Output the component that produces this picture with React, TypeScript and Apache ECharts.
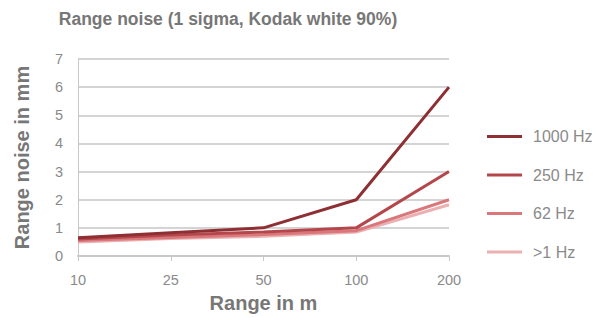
import React, { useEffect, useRef } from "react";
import * as echarts from "echarts";

const categories = ["10", "25", "50", "100", "200"];
const seriesNames = ["1000 Hz", "250 Hz", "62 Hz", ">1 Hz"];
const hz1000 = [0.65, 0.83, 1.0, 2.0, 6.0];
const hz250 = [0.6, 0.75, 0.85, 1.0, 3.0];
const hz62 = [0.55, 0.66, 0.76, 0.9, 2.0];
const hz1 = [0.5, 0.62, 0.7, 0.85, 1.82];
const colors = ["#8e2f33", "#b4474b", "#d9777b", "#ebb0b2"];

export default function App() {
  const ref = useRef<HTMLDivElement>(null);
  useEffect(() => {
    if (!ref.current) return;
    const chart = echarts.init(ref.current, undefined, { renderer: "svg" });
    const data = [hz1000, hz250, hz62, hz1];
    chart.setOption({
      animation: false,
      backgroundColor: "#ffffff",
      textStyle: { fontFamily: "Liberation Sans" },
      title: {
        text: "Range noise (1 sigma, Kodak white 90%)",
        left: 228,
        textAlign: "center",
        top: 10,
        padding: 0,
        textStyle: { fontSize: 17.5, fontWeight: "bold", color: "#777777", fontFamily: "Liberation Sans" },
      },
      legend: {
        orient: "vertical",
        left: 487,
        top: 128,
        padding: 0,
        icon: "rect",
        itemWidth: 35,
        itemHeight: 3,
        itemGap: 21.5,
        data: seriesNames,
        textStyle: {
          fontSize: 16,
          lineHeight: 17,
          color: "#8a8a8a",
          fontFamily: "Liberation Sans",
          padding: [0, 0, 0, 6],
        },
      },
      grid: { left: 78, right: 160, top: 59, bottom: 62, outerBoundsMode: "none" },
      xAxis: {
        type: "category",
        data: categories,
        boundaryGap: false,
        name: "Range in m",
        nameLocation: "middle",
        nameGap: 37,
        nameTextStyle: { fontSize: 20, fontWeight: "bold", color: "#777777" },
        axisLine: { lineStyle: { color: "#c8c8c8", width: 2 } },
        axisTick: { show: true, length: 5, lineStyle: { color: "#c8c8c8", width: 1 } },
        axisLabel: { color: "#8a8a8a", fontSize: 14.5, margin: 16 },
      },
      yAxis: {
        type: "value",
        min: 0,
        max: 7,
        interval: 1,
        name: "Range noise in mm",
        nameLocation: "middle",
        nameGap: 46,
        nameTextStyle: { fontSize: 20, fontWeight: "bold", color: "#777777" },
        axisLine: { show: true, lineStyle: { color: "#c8c8c8", width: 1 } },
        axisTick: { show: false },
        axisLabel: { color: "#8a8a8a", fontSize: 14.5, margin: 15 },
        splitLine: { lineStyle: { color: "#d4d4d4", width: 2 } },
      },
      series: seriesNames.map((name, i) => ({
        name,
        type: "line",
        data: data[i],
        symbol: "none",
        z: 10 - i,
        lineStyle: { color: colors[i], width: 3 },
        itemStyle: { color: colors[i] },
      })),
    });
    return () => chart.dispose();
  }, []);
  return (
    <div
      ref={ref}
      style={{ position: "absolute", left: 0, top: 0, width: 609, height: 318 }}
    />
  );
}
